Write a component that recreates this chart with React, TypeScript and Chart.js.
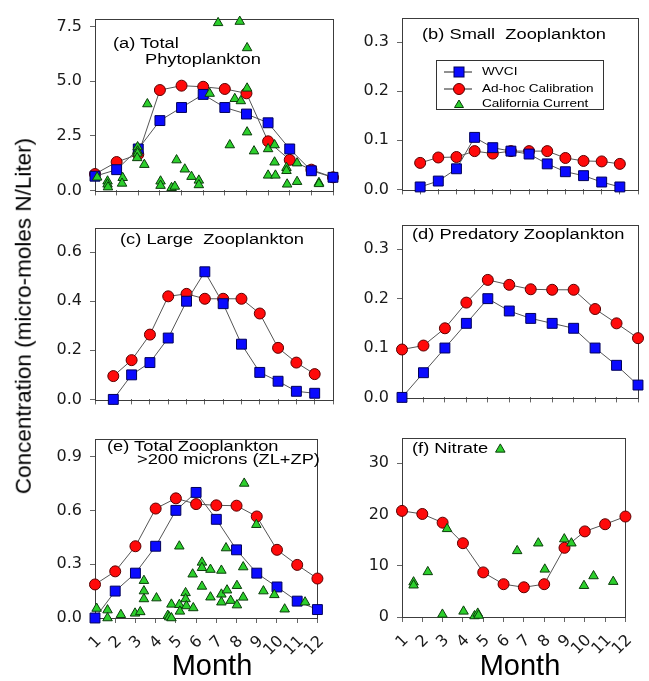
import React, { useEffect, useRef } from 'react';
import { Chart, registerables } from 'chart.js';

Chart.register(...registerables);

// ---------------- data ----------------
const months = [1, 2, 3, 4, 5, 6, 7, 8, 9, 10, 11, 12];

// (a) Total Phytoplankton
const phytoWvci = [0.65, 0.95, 1.9, 3.2, 3.8, 4.4, 3.8, 3.5, 3.1, 1.9, 0.9, 0.6];
const phytoAdhoc = [0.75, 1.3, 1.65, 4.6, 4.8, 4.75, 4.65, 4.45, 2.25, 1.4, 0.95, 0.6];
const phytoObs: [number, number][] = [
  [1.1, 0.6], [1.58, 0.42], [1.58, 0.28], [1.6, 0.15], [2.28, 0.58], [2.25, 0.32],
  [2.97, 1.99], [2.97, 1.8], [2.97, 1.7], [2.95, 1.49], [3.28, 1.18], [3.42, 3.96],
  [4.03, 0.42], [4.03, 0.22], [4.54, 0.12], [4.69, 0.18], [4.77, 1.39], [5.15, 0.97],
  [5.46, 0.63], [5.8, 0.46], [5.8, 0.25], [6.3, 4.44], [6.69, 7.68], [7.23, 2.08],
  [7.46, 4.2], [7.69, 7.74], [7.74, 4.1], [8.03, 6.53], [8.03, 4.68], [8.03, 2.67],
  [8.35, 1.8], [9.0, 1.9], [9.0, 0.69], [9.3, 2.08], [9.3, 1.29], [9.34, 0.69],
  [9.85, 1.04], [9.85, 0.9], [9.88, 0.28], [10.34, 1.25], [10.34, 0.4], [11.35, 0.35],
  [11.35, 0.3],
];

// (b) Small Zooplankton
const smallWvci = [0.005, 0.017, 0.042, 0.106, 0.085, 0.078, 0.072, 0.052, 0.036, 0.028, 0.015, 0.005];
const smallAdhoc = [0.054, 0.065, 0.066, 0.078, 0.073, 0.078, 0.078, 0.078, 0.064, 0.058, 0.057, 0.052];

// (c) Large Zooplankton
const largeWvci = [0.0, 0.1, 0.15, 0.25, 0.4, 0.52, 0.39, 0.225, 0.11, 0.074, 0.033, 0.025];
const largeAdhoc = [0.095, 0.16, 0.264, 0.42, 0.43, 0.41, 0.41, 0.41, 0.35, 0.21, 0.15, 0.103];

// (d) Predatory Zooplankton
const predWvci = [0.0, 0.05, 0.1, 0.15, 0.2, 0.175, 0.16, 0.15, 0.14, 0.1, 0.065, 0.025];
const predAdhoc = [0.097, 0.105, 0.14, 0.192, 0.238, 0.228, 0.219, 0.218, 0.218, 0.179, 0.15, 0.12];

// (e) Total Zooplankton >200 microns
const totalWvci = [0.0, 0.15, 0.25, 0.4, 0.6, 0.7, 0.55, 0.38, 0.25, 0.173, 0.094, 0.047];
const totalAdhoc = [0.187, 0.26, 0.4, 0.61, 0.667, 0.635, 0.628, 0.626, 0.566, 0.38, 0.296, 0.22];
const totalObs: [number, number][] = [
  [1.08, 0.053], [1.62, 0.044], [1.62, 0.0], [2.28, 0.018], [2.98, 0.026], [3.24, 0.034],
  [3.42, 0.208], [3.42, 0.15], [3.42, 0.106], [4.04, 0.111], [4.6, 0.014], [4.67, 0.005],
  [4.78, 0.0], [4.78, 0.076], [5.17, 0.4], [5.17, 0.074], [5.2, 0.037], [5.48, 0.14],
  [5.48, 0.106], [5.52, 0.067], [5.86, 0.056], [5.83, 0.244], [6.29, 0.31], [6.29, 0.28],
  [6.29, 0.176], [6.71, 0.27], [6.71, 0.116], [7.25, 0.265], [7.25, 0.132], [7.25, 0.088],
  [7.48, 0.39], [7.53, 0.155], [7.71, 0.097], [8.02, 0.18], [8.02, 0.072], [8.33, 0.284],
  [8.33, 0.115], [8.38, 0.75], [8.98, 0.52], [9.33, 0.15], [9.87, 0.129], [10.38, 0.049],
  [11.39, 0.088],
];

// (f) Nitrate
const nitrateAdhoc = [20.7, 20.1, 18.4, 14.4, 8.7, 6.4, 5.8, 6.4, 13.5, 16.7, 18.1, 19.6];
const nitrateObs: [number, number][] = [
  [1.57, 6.8], [1.57, 6.2], [2.27, 8.8], [2.99, 0.5], [3.22, 17.2], [4.03, 1.1],
  [4.57, 0.2], [4.73, 0.7], [4.77, 0.3], [5.84, 32.7], [6.67, 12.9], [7.71, 14.4],
  [8.03, 9.3], [8.99, 15.2], [9.34, 14.4], [9.96, 6.1], [10.43, 8.0], [11.4, 6.9],
];

// tick values
const monthTicks = [1, 2, 3, 4, 5, 6, 7, 8, 9, 10, 11, 12];
const wideMonthTicks = [0, 1, 2, 3, 4, 5, 6, 7, 8, 9, 10, 11, 12, 13];
const phytoTicks = [0, 2.5, 5.0, 7.5];
const smallTicks = [0, 0.1, 0.2, 0.3];
const largeTicks = [0, 0.2, 0.4, 0.6];
const predTicks = [0, 0.1, 0.2, 0.3];
const totalTicks = [0, 0.3, 0.6, 0.9];
const nitrateTicks = [0, 10, 20, 30];

// ---------------- styles ----------------
const BLUE = '#0a0aff';
const RED = '#ff0a0a';
const GREEN = '#2ccf2c';
const LINE = '#555555';
const TICK_FONT = { family: 'DejaVu Sans', size: 16 };

type Panel = {
  key: string;
  plot: { l: number; r: number; t: number; b: number };
  yAxisW: number;
  padRight: number;
  xAxisH: number;
  xMin: number;
  xMax: number;
  xTicks: number[];
  yMax: number;
  yTicks: number[];
  yDec: number;
  showX: boolean;
  wvci?: number[];
  adhoc?: number[];
  obs?: [number, number][];
};

const PAD_TOP = 8;

const panels: Panel[] = [
  { key: 'a', plot: { l: 95, r: 333, t: 9, b: 198 }, yAxisW: 60, padRight: 7, xAxisH: 10, xMin: 1, xMax: 12, xTicks: monthTicks, yMax: 7.875, yTicks: phytoTicks, yDec: 1, showX: false, wvci: phytoWvci, adhoc: phytoAdhoc, obs: phytoObs },
  { key: 'b', plot: { l: 402, r: 638, t: 8, b: 197 }, yAxisW: 62, padRight: 10, xAxisH: 10, xMin: 0, xMax: 13, xTicks: wideMonthTicks, yMax: 0.35, yTicks: smallTicks, yDec: 1, showX: false, wvci: smallWvci, adhoc: smallAdhoc },
  { key: 'c', plot: { l: 95, r: 333, t: 218, b: 407 }, yAxisW: 60, padRight: 7, xAxisH: 10, xMin: 0, xMax: 13, xTicks: wideMonthTicks, yMax: 0.7, yTicks: largeTicks, yDec: 1, showX: false, wvci: largeWvci, adhoc: largeAdhoc },
  { key: 'd', plot: { l: 402, r: 638, t: 215, b: 405 }, yAxisW: 62, padRight: 10, xAxisH: 10, xMin: 1, xMax: 12, xTicks: monthTicks, yMax: 0.35, yTicks: predTicks, yDec: 1, showX: false, wvci: predWvci, adhoc: predAdhoc },
  { key: 'e', plot: { l: 95, r: 333, t: 429, b: 618 }, yAxisW: 60, padRight: 7, xAxisH: 45, xMin: 1, xMax: 12, xTicks: monthTicks, yMax: 1.0, yTicks: totalTicks, yDec: 1, showX: true, wvci: totalWvci, adhoc: totalAdhoc, obs: totalObs },
  { key: 'f', plot: { l: 402, r: 638, t: 428, b: 617 }, yAxisW: 62, padRight: 10, xAxisH: 45, xMin: 1, xMax: 12, xTicks: monthTicks, yMax: 35, yTicks: nitrateTicks, yDec: 0, showX: true, adhoc: nitrateAdhoc, obs: nitrateObs },
];

const framePlugin = {
  id: 'frame',
  beforeDatasetsDraw(chart: any) {
    const { ctx, chartArea: a } = chart;
    ctx.save();
    ctx.strokeStyle = '#3c3c3c';
    ctx.lineWidth = 1;
    ctx.strokeRect(Math.round(a.left) + 0.5, Math.round(a.top) + 0.5, Math.round(a.right - a.left), Math.round(a.bottom - a.top));
    ctx.restore();
  },
};

function PanelChart({ p }: { p: Panel }) {
  const ref = useRef<HTMLCanvasElement>(null);
  const w = p.plot.r - p.plot.l + p.yAxisW + p.padRight;
  const h = p.plot.b - p.plot.t + PAD_TOP + p.xAxisH;
  useEffect(() => {
    if (!ref.current) return;
    const datasets: any[] = [];
    if (p.obs) {
      datasets.push({
        label: 'California Current',
        data: p.obs.map(([x, y]) => ({ x, y })),
        showLine: false,
        pointStyle: 'triangle',
        pointRadius: 5.5,
        backgroundColor: GREEN,
        borderColor: '#0b3d0b',
        borderWidth: 1,
        clip: false,
      });
    }
    if (p.wvci) {
      datasets.push({
        label: 'WVCI',
        data: months.map((m, i) => ({ x: m, y: p.wvci![i] })),
        showLine: true,
        borderColor: LINE,
        borderWidth: 1,
        tension: 0,
        pointStyle: 'rect',
        pointRadius: 7,
        pointBackgroundColor: BLUE,
        pointBorderColor: '#00005a',
        pointBorderWidth: 1,
        clip: false,
      });
    }
    if (p.adhoc) {
      datasets.push({
        label: 'Ad-hoc Calibration',
        data: months.map((m, i) => ({ x: m, y: p.adhoc![i] })),
        showLine: true,
        borderColor: LINE,
        borderWidth: 1,
        tension: 0,
        pointStyle: 'circle',
        pointRadius: 5.5,
        pointBackgroundColor: RED,
        pointBorderColor: '#5a0000',
        pointBorderWidth: 1,
        clip: false,
      });
    }
    const chart = new Chart(ref.current, {
      type: 'scatter',
      data: { datasets },
      options: {
        animation: false,
        responsive: false,
        devicePixelRatio: 1,
        events: [],
        layout: { padding: { top: PAD_TOP, right: p.padRight, left: 0, bottom: 0 }, autoPadding: false },
        plugins: { legend: { display: false }, tooltip: { enabled: false } },
        scales: {
          x: {
            type: 'linear',
            min: p.xMin,
            max: p.xMax,
            afterBuildTicks: (s: any) => { s.ticks = p.xTicks.map((v) => ({ value: v })); },
            afterFit: (s: any) => { s.height = p.xAxisH; },
            grid: { display: true, drawOnChartArea: false, drawTicks: true, tickLength: 5, color: '#666' },
            border: { display: false },
            ticks: {
              display: p.showX,
              font: TICK_FONT,
              color: '#1a1a1a',
              minRotation: 45,
              maxRotation: 45,
              padding: 9,
              labelOffset: 4,
              autoSkip: false,
              callback: (v: any) => String(v),
            },
          },
          y: {
            type: 'linear',
            min: 0,
            max: p.yMax,
            afterBuildTicks: (s: any) => { s.ticks = p.yTicks.map((v) => ({ value: v })); },
            afterFit: (s: any) => { s.width = p.yAxisW; },
            grid: { display: true, drawOnChartArea: false, drawTicks: true, tickLength: 5, color: '#666' },
            border: { display: false },
            ticks: {
              font: TICK_FONT,
              color: '#1a1a1a',
              padding: 8,
              callback: (v: any) => Number(v).toFixed(p.yDec),
            },
          },
        },
      } as any,
      plugins: [framePlugin],
    });
    return () => chart.destroy();
  }, []);
  return (
    <canvas
      ref={ref}
      width={w}
      height={h}
      style={{ position: 'absolute', left: p.plot.l - p.yAxisW, top: p.plot.t - PAD_TOP, width: w, height: h }}
    />
  );
}

const titleStyle = (left: number, top: number): React.CSSProperties => ({
  position: 'absolute',
  left,
  top,
  fontFamily: '"Liberation Sans", Arial, sans-serif',
  fontSize: 15.5,
  lineHeight: 1,
  color: '#000',
  whiteSpace: 'pre',
  transform: 'scaleX(1.18)',
  transformOrigin: 'left top',
});

const panelTitles: { text: string; left: number; top: number }[] = [
  { text: '(a) Total', left: 113, top: 35 },
  { text: 'Phytoplankton', left: 145, top: 51 },
  { text: '(b) Small  Zooplankton', left: 422, top: 26 },
  { text: '(c) Large  Zooplankton', left: 120, top: 231 },
  { text: '(d) Predatory Zooplankton', left: 412, top: 226 },
  { text: '(e) Total Zooplankton', left: 107, top: 438 },
  { text: '>200 microns (ZL+ZP)', left: 137, top: 451 },
  { text: '(f) Nitrate', left: 412, top: 440 },
];

const legendItems = ['WVCI', 'Ad-hoc Calibration', 'California Current'];

function Legend() {
  const rowY = [11, 28, 43];
  return (
    <div style={{ position: 'absolute', left: 436, top: 60, width: 168, height: 50, border: '1px solid #333', background: '#fff', boxSizing: 'border-box' }}>
      <svg width={40} height={50} style={{ position: 'absolute', left: 0, top: 0 }}>
        <line x1={7} y1={rowY[0]} x2={35} y2={rowY[0]} stroke="#222" strokeWidth={1} />
        <rect x={17} y={rowY[0] - 5} width={10} height={10} fill={BLUE} stroke="#00005a" />
        <line x1={7} y1={rowY[1]} x2={35} y2={rowY[1]} stroke="#222" strokeWidth={1} />
        <circle cx={22} cy={rowY[1]} r={5.5} fill={RED} stroke="#5a0000" />
        <polygon points={`${22},${rowY[2] - 4} ${26.5},${rowY[2] + 3.5} ${17.5},${rowY[2] + 3.5}`} fill={GREEN} stroke="#0b3d0b" />
      </svg>
      {legendItems.map((t, i) => (
        <div
          key={t}
          style={{
            position: 'absolute',
            left: 45,
            top: rowY[i] - 6,
            fontFamily: '"Liberation Sans", Arial, sans-serif',
            fontSize: 11.5,
            lineHeight: 1,
            whiteSpace: 'pre',
            transform: 'scaleX(1.18)',
            transformOrigin: 'left top',
            color: '#000',
          }}
        >
          {t}
        </div>
      ))}
    </div>
  );
}

export default function App() {
  return (
    <div style={{ position: 'absolute', left: 0, top: 0, width: 649, height: 681, background: '#fff', overflow: 'hidden' }}>
      {panels.map((p) => (
        <PanelChart key={p.key} p={p} />
      ))}
      {panelTitles.map((t) => (
        <div key={t.text} style={titleStyle(t.left, t.top)}>{t.text}</div>
      ))}
      <Legend />
      <div
        style={{
          position: 'absolute',
          left: 24,
          top: 316,
          transform: 'translate(-50%, -50%) rotate(-90deg)',
          fontFamily: '"Liberation Sans", Arial, sans-serif',
          fontSize: 22.5,
          lineHeight: 1,
          whiteSpace: 'nowrap',
          color: '#000',
        }}
      >
        Concentration (micro-moles N/Liter)
      </div>
      <div style={{ position: 'absolute', left: 212, top: 651, transform: 'translateX(-50%)', fontFamily: '"Liberation Sans", Arial, sans-serif', fontSize: 29, lineHeight: 1, whiteSpace: 'nowrap', color: '#000' }}>
        Month
      </div>
      <div style={{ position: 'absolute', left: 520, top: 651, transform: 'translateX(-50%)', fontFamily: '"Liberation Sans", Arial, sans-serif', fontSize: 29, lineHeight: 1, whiteSpace: 'nowrap', color: '#000' }}>
        Month
      </div>
    </div>
  );
}
